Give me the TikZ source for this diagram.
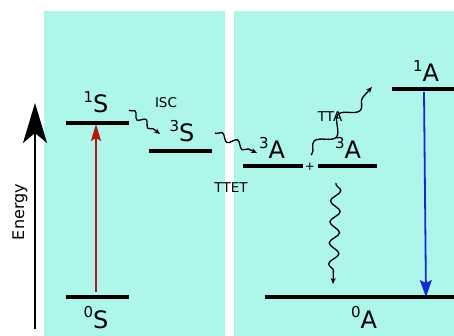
\documentclass[tikz,border=0pt]{standalone}
\usepackage{fontspec}
\setmainfont{DejaVu Sans}
\usepackage{xcolor}
\usetikzlibrary{arrows.meta, decorations.pathmorphing}
\definecolor{panelcyan}{HTML}{AFF6EA}
\definecolor{pumpred}{HTML}{B3170F}
\definecolor{emitblue}{HTML}{1428D8}
\newcommand{\statelbl}[2]{\raisebox{0.42em}{\fontsize{15}{15}\selectfont #1}#2}

\begin{document}
\begin{tikzpicture}[x=1pt, y=-1pt,
    level/.style={line width=3.2pt},
    state/.style={font=\fontsize{24}{24}\selectfont, inner sep=0pt, anchor=base},
    proc/.style={font=\fontsize{13.5}{13.5}\selectfont, inner sep=0pt, anchor=base},
    wave/.style={decorate, line width=1.3pt,
                 decoration={snake, amplitude=3pt, segment length=14pt,
                             pre length=1pt, post length=4pt},
                 -{Stealth[length=6pt, width=5pt]}},
]
    \useasboundingbox (0,0) rectangle (454,336);

    % Panels
    \fill[panelcyan] (44,11) rectangle (225,336);
    \fill[panelcyan] (234,11) rectangle (454,336);

    % Energy axis
    \coordinate (ebot) at (35,329);
    \coordinate (etop) at (35,103);
    \draw[line width=2.2pt, -{Stealth[length=40pt, width=24pt, inset=10pt]}]
        (ebot) -- (etop);
    \node[rotate=90, font=\fontsize{16}{16}\selectfont] (energy) at (20,212) {Energy};

    % Levels
    \draw[level] (66,123) -- (129,123);
    \draw[level] (66,297) -- (129,297);
    \draw[level] (149,151) -- (212,151);
    \draw[level] (243,166) -- (303,166);
    \draw[level] (318,166) -- (377,166);
    \draw[level] (392,89) -- (454,89);
    \draw[level] (265,297) -- (454,297);

    % State labels
    \node[state] (s1)  at (96,113)  {\statelbl{1}{S}};
    \node[state] (s0)  at (96,328)  {\statelbl{0}{S}};
    \node[state] (s3)  at (182,142) {\statelbl{3}{S}};
    \node[state] (a3)  at (272,159) {\statelbl{3}{A}};
    \node[state] (a3b) at (348,159) {\statelbl{3}{A}};
    \node[state] (a1)  at (426,82)  {\statelbl{1}{A}};
    \node[state] (a0)  at (364,328) {\statelbl{0}{A}};
    \node[font=\fontsize{12}{12}\selectfont, inner sep=0pt] (plus) at (310,167) {+};

    % Process labels
    \node[proc] (isc)  at (166,108) {ISC};
    \node[proc] (ttet) at (231,193) {TTET};
    \node[proc] (tta)  at (330,122) {TTA};

    % Transition end points
    \coordinate (pumpA) at (96,292);
    \coordinate (pumpB) at (96,124);
    \coordinate (emitA) at (424,92);
    \coordinate (emitB) at (426,297);
    \coordinate (iscA)  at (129,110);
    \coordinate (iscB)  at (160,134);
    \coordinate (ttetA) at (215,133);
    \coordinate (ttetB) at (257,153);
    \coordinate (ttaA)  at (311,155);
    \coordinate (ttaB)  at (372,87);
    \coordinate (decA)  at (336,183);
    \coordinate (decB)  at (333,284);

    % Transitions
    \draw[pumpred, line width=1.8pt, -{Stealth[length=17pt, width=10pt, inset=3pt]}]
        (pumpA) -- (pumpB);
    \draw[emitblue, line width=1.8pt, -{Stealth[length=17pt, width=12pt, inset=3pt]}]
        (emitA) -- (emitB);
    \draw[wave] (iscA) -- (iscB);
    \draw[wave, decoration={segment length=17pt, amplitude=3.5pt}] (ttetA) -- (ttetB);
    \draw[wave, decoration={segment length=36pt, amplitude=7pt}] (ttaA) -- (ttaB);
    \draw[wave, decoration={segment length=21pt, amplitude=5pt}] (decA) -- (decB);
\end{tikzpicture}
\end{document}
